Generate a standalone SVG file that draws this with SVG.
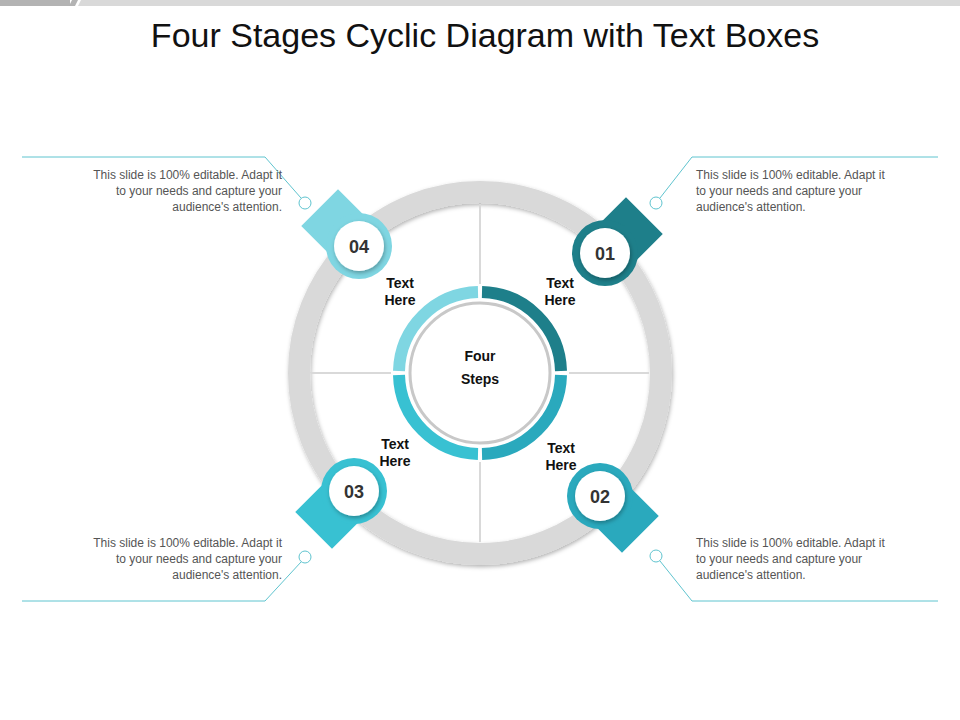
<svg xmlns="http://www.w3.org/2000/svg" width="960" height="720" viewBox="0 0 960 720">
<defs>
<style>
.t{font-family:"Liberation Sans",Arial,sans-serif}
.d{font-size:12px;fill:#555}
.l{font-size:14px;font-weight:bold;fill:#111;text-anchor:middle}
.n{font-size:18px;font-weight:bold;fill:#333;text-anchor:middle}
.cn{fill:none;stroke:#5fc4cf;stroke-width:1}
</style>
<filter id="sh" x="-30%" y="-30%" width="160%" height="160%"><feDropShadow dx="1" dy="2" stdDeviation="2" flood-opacity="0.3"/></filter>
</defs>
<rect width="960" height="720" fill="#fff"/>
<rect x="0" y="0" width="70" height="6" fill="#b3b3b3"/>
<polygon points="72,0 78,0 75,6 69,6" fill="#b3b3b3"/>
<polygon points="81,0 960,0 960,6 78,6" fill="#d9d9d9"/>
<text class="t" x="485" y="47" font-size="34" fill="#111" text-anchor="middle">Four Stages Cyclic Diagram with Text Boxes</text>
<g id="ring">
<circle cx="480" cy="373" r="181" fill="none" stroke="#d9d9d9" stroke-width="22" filter="url(#sh)"/>
<g stroke="#d9d9d9" stroke-width="2">
<line x1="480" y1="204" x2="480" y2="284"/><line x1="480" y1="462" x2="480" y2="542"/>
<line x1="311" y1="373" x2="391" y2="373"/><line x1="569" y1="373" x2="649" y2="373"/>
</g>
</g>
<g id="center">
<path d="M482,292 A81,81 0 0 1 561,371" fill="none" stroke="#1e7f8a" stroke-width="12"/>
<path d="M561,375 A81,81 0 0 1 482,454" fill="none" stroke="#2aa9bd" stroke-width="12"/>
<path d="M478,454 A81,81 0 0 1 399,375" fill="none" stroke="#38c1d2" stroke-width="12"/>
<path d="M399,371 A81,81 0 0 1 478,292" fill="none" stroke="#7fd6e2" stroke-width="12"/>
<circle cx="480" cy="373" r="70" fill="#fff" stroke="#c8c8c8" stroke-width="3"/>
<text class="t l" x="480" y="361" font-size="16">Four</text>
<text class="t l" x="480" y="384" font-size="16">Steps</text>
</g>
<g id="n01">
<rect x="600" y="208" width="52" height="52" fill="#1e7f8a" transform="rotate(45 626 234)"/>
<circle cx="605" cy="253" r="33" fill="#1e7f8a"/><circle cx="605" cy="253" r="25" fill="#fff" filter="url(#sh)"/>
<text class="t n" x="605" y="260">01</text>
<text class="t l" x="560" y="288">Text</text><text class="t l" x="560" y="305">Here</text>
</g>
<g id="n02">
<rect x="596" y="490" width="52" height="52" fill="#2aa9bd" transform="rotate(45 622 516)"/>
<circle cx="600" cy="496" r="33" fill="#2aa9bd"/><circle cx="600" cy="496" r="25" fill="#fff" filter="url(#sh)"/>
<text class="t n" x="600" y="503">02</text>
<text class="t l" x="561" y="453">Text</text><text class="t l" x="561" y="470">Here</text>
</g>
<g id="n03">
<rect x="306" y="486" width="52" height="52" fill="#38c1d2" transform="rotate(45 332 512)"/>
<circle cx="354" cy="491" r="33" fill="#38c1d2"/><circle cx="354" cy="491" r="25" fill="#fff" filter="url(#sh)"/>
<text class="t n" x="354" y="498">03</text>
<text class="t l" x="395" y="449">Text</text><text class="t l" x="395" y="466">Here</text>
</g>
<g id="n04">
<rect x="312" y="200" width="52" height="52" fill="#7fd6e2" transform="rotate(45 338 226)"/>
<circle cx="359" cy="246" r="33" fill="#7fd6e2"/><circle cx="359" cy="246" r="25" fill="#fff" filter="url(#sh)"/>
<text class="t n" x="359" y="253">04</text>
<text class="t l" x="400" y="288">Text</text><text class="t l" x="400" y="305">Here</text>
</g>
<g id="connectors">
<polyline class="cn" points="22,157 265,157 301,198"/><circle class="cn" cx="305" cy="203" r="6" fill="#fff"/>
<polyline class="cn" points="938,157 692,157 660,198"/><circle class="cn" cx="656" cy="203" r="6" fill="#fff"/>
<polyline class="cn" points="22,601 265,601 301,562"/><circle class="cn" cx="305" cy="557" r="6" fill="#fff"/>
<polyline class="cn" points="938,601 692,601 660,561"/><circle class="cn" cx="656" cy="556" r="6" fill="#fff"/>
</g>
<g id="texts" class="t d">
<g text-anchor="end"><text x="282" y="179">This slide is 100% editable.  Adapt it</text><text x="282" y="195">to your needs and capture your</text><text x="282" y="211">audience's attention.</text></g>
<text x="696" y="179">This slide is 100% editable.  Adapt it</text><text x="696" y="195">to your needs and capture your</text><text x="696" y="211">audience's attention.</text>
<g text-anchor="end"><text x="282" y="547">This slide is 100% editable.  Adapt it</text><text x="282" y="563">to your needs and capture your</text><text x="282" y="579">audience's attention.</text></g>
<text x="696" y="547">This slide is 100% editable.  Adapt it</text><text x="696" y="563">to your needs and capture your</text><text x="696" y="579">audience's attention.</text>
</g>
</svg>
